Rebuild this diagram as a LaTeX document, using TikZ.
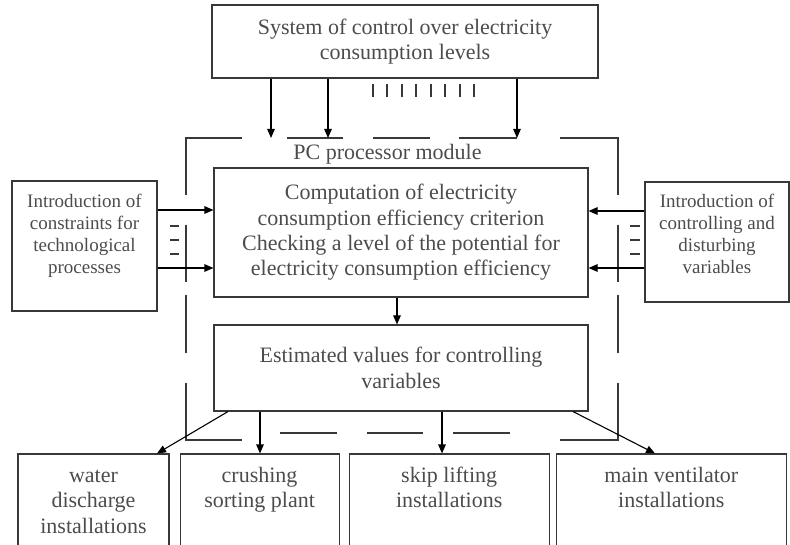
\documentclass[tikz,border=0pt]{standalone}
\usepackage{fontspec}
\setmainfont{Liberation Serif}
\usepackage{tikz}
\usetikzlibrary{positioning,arrows.meta}
\colorlet{txtGray}{black!70}
\colorlet{lineGray}{black!78}

\begin{document}
\begin{tikzpicture}[x=1pt, y=-1pt, line width=1.1pt,
        every node/.style={font=\fontsize{22}{25.3}\selectfont, align=center, text=txtGray},
        box/.style={draw=lineGray, inner sep=0pt},
        small/.style={font=\fontsize{19}{21.9}\selectfont},
        arr/.style={-{Triangle[length=9pt, width=7.5pt]}, black}]
        \useasboundingbox (0,0) rectangle (790,545);
        \clip (0,0) rectangle (790,545);

        % upper level
        \node[box, minimum width=386pt, minimum height=73pt] (sys) at (405,41.5)
            {System of control over electricity\\consumption levels};
        \foreach \x in {373,387,402,416,431,445,460,474}
            \draw[lineGray] (\x,84) -- (\x,97);

        % processor module
        \coordinate (frameNW) at (186,138);
        \coordinate (frameSE) at (618,440);
        \draw[lineGray] (242,138) -- (frameNW) -- (186,195);
        \draw[lineGray] (186,225) -- (186,282) (186,295) -- (186,353);
        \draw[lineGray] (186,383) -- (frameNW |- frameSE) -- (242,440);
        \draw[lineGray] (560,138) -- (frameNW -| frameSE) -- (618,195);
        \draw[lineGray] (618,225) -- (618,282) (618,295) -- (618,353);
        \draw[lineGray] (618,383) -- (frameSE) -- (560,440);
        \foreach \a/\b in {287/343,373/430,459/517}
            \draw[lineGray] (\a,138) -- (\b,138);
        \foreach \a/\b in {280/337,367/423,453/510}
            \draw[lineGray] (\a,433) -- (\b,433);

        \node (module) at (387.5,154) {PC processor module};
        \node[box, minimum width=374pt, minimum height=129pt] (comp) at (401,232.5)
            {Computation of electricity\\consumption efficiency criterion\\Checking a level of the potential for\\electricity consumption efficiency};
        \node[box, minimum width=374pt, minimum height=86pt] (est) at (401,368)
            {Estimated values for controlling\\variables};

        \draw[arr] (sys.south -| 271,0) -- (frameNW -| 271,0);
        \draw[arr] (sys.south -| 328,0) -- (frameNW -| 328,0);
        \draw[arr] (sys.south -| 517,0) -- (frameNW -| 517,0);
        \draw[arr] (comp.south -| 397,0) -- (est.north -| 397,0);

        % inputs (base = last line)
        \node[box, minimum width=145pt, minimum height=130pt] (constr) at (84.5,246) {};
        \node[small, anchor=base] (constrtext) at ([yshift=-92.7pt]constr.north)
            {Introduction of\\constraints for\\technological\\processes};
        \node[box, minimum width=144pt, minimum height=120pt] (ctrl) at (717,242) {};
        \node[small, anchor=base] (ctrltext) at ([yshift=-91.7pt]ctrl.north)
            {Introduction of\\controlling and\\disturbing\\variables};

        \draw[arr] (constr.east |- 0,210) -- (comp.west |- 0,210);
        \draw[arr] (constr.east |- 0,268) -- (comp.west |- 0,268);
        \draw[arr] (ctrl.west |- 0,211) -- (comp.east |- 0,211);
        \draw[arr] (ctrl.west |- 0,268) -- (comp.east |- 0,268);
        \foreach \y in {226,240,254} {
            \draw[lineGray] (170,\y) -- (179,\y);
            \draw[lineGray] (630,\y) -- (640,\y);
        }

        % installations
        \node[box, minimum width=151pt, minimum height=106pt] (water) at (93.5,507) {};
        \node[box, minimum width=159pt, minimum height=106pt, right=10pt of water] (crush) {};
        \node[box, minimum width=200pt, minimum height=106pt, right=9pt of crush] (skip) {};
        \node[box, minimum width=230pt, minimum height=106pt, right=6pt of skip] (vent) {};
        \node[anchor=base] (watertext) at ([yshift=-79.6pt]water.north) {water\\discharge\\installations};
        \node[anchor=base] (crushtext) at ([yshift=-54.3pt]crush.north) {crushing\\sorting plant};
        \node[anchor=base] (skiptext) at ([yshift=-54.3pt]skip.north) {skip lifting\\installations};
        \node[anchor=base] (venttext) at ([yshift=-54.3pt]vent.north) {main ventilator\\installations};

        \draw[arr] (est.south -| 228,0) -- (water.north -| 157,0);
        \draw[arr] (est.south -| 260,0) -- (crush.north -| 260,0);
        \draw[arr] (est.south -| 442,0) -- (skip.north -| 442,0);
        \draw[arr] (est.south -| 573,0) -- (vent.north -| 655,0);
    \end{tikzpicture}
\end{document}
